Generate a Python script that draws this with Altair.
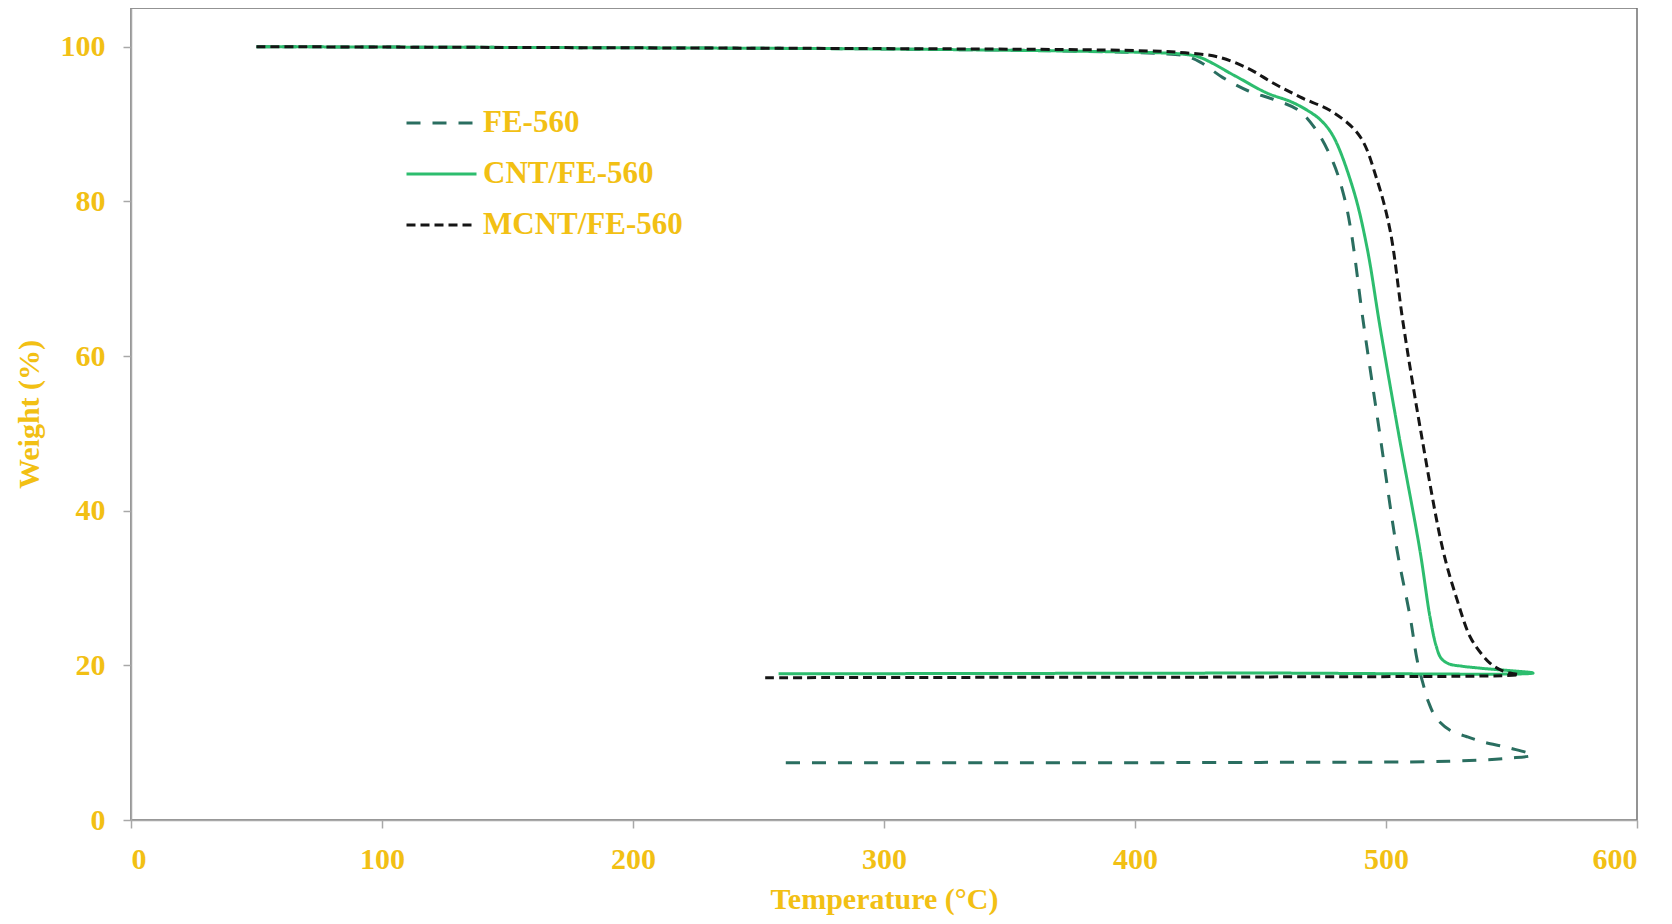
import altair as alt
import pandas as pd

series_names = ["FE-560", "CNT/FE-560", "MCNT/FE-560"]
series_colors = ["#2a6e60", "#2dbd6e", "#151515"]
series_dashes = [[14, 12], [1, 0], [9, 5]]

# FE-560: heating then cooling
fe_T = [50, 100, 200, 300, 380, 410, 420, 426, 435, 445, 455, 465, 472, 479, 483, 486, 491, 497.5, 504.4, 509.6, 512.4, 514.7, 517, 520, 525.5, 532, 538.6, 549.4, 558.2,
        549, 525, 450, 350, 257]
fe_W = [100, 99.95, 99.85, 99.7, 99.4, 99.1, 98.8, 98.0, 96.0, 94.3, 93.2, 91.8, 89.3, 85.0, 81.0, 76.3, 64.3, 50.0, 34.9, 26.3, 20.7, 17.7, 15.2, 13.2, 11.6, 10.8, 10.1, 9.3, 8.4,
        8.0, 7.6, 7.45, 7.4, 7.4]

# CNT/FE-560
cnt_T = [50, 100, 200, 300, 380, 410, 420, 426, 440, 452.6, 462, 468.5, 474, 479, 487, 492.4, 497.6, 505, 513.5, 517.5, 520, 522, 525, 530, 538.6, 558.6,
         450, 350, 258]
cnt_W = [100, 99.95, 99.85, 99.7, 99.4, 99.2, 99.0, 98.6, 96.2, 94.0, 92.9, 91.8, 90.5, 88.4, 81.5, 74.1, 63.8, 50.0, 34.9, 26.3, 22.5, 20.9, 20.2, 19.9, 19.6, 19.0,
         19.0, 18.95, 18.9]

# MCNT/FE-560
mcnt_T = [50, 100, 200, 300, 380, 410, 420, 432.7, 445, 455, 465.7, 479, 489.6, 496.4, 501.6, 506.8, 514, 522.7, 528.3, 533.5, 538, 541.4, 545, 549.4, 553,
          450, 350, 252]
mcnt_W = [100, 99.95, 99.85, 99.75, 99.6, 99.4, 99.2, 98.7, 97.2, 95.3, 93.5, 91.5, 88.4, 82.8, 76.3, 64.3, 50.0, 34.9, 28.5, 23.7, 21.5, 20.3, 19.5, 19.0, 18.8,
          18.5, 18.45, 18.4]

x_ticks = [0, 100, 200, 300, 400, 500, 600]
y_ticks = [0, 20, 40, 60, 80, 100]

rows = []
for name, T, W in zip(series_names, [fe_T, cnt_T, mcnt_T], [fe_W, cnt_W, mcnt_W]):
    for i, (t, w) in enumerate(zip(T, W)):
        rows.append({"series": name, "T": t, "W": w, "idx": i})
df = pd.DataFrame(rows)

GOLD = "#f2c014"
FONT = "Liberation Serif"

legend = alt.Legend(
    title=None, orient="none", legendX=274, legendY=100,
    symbolType="stroke", symbolSize=4900, symbolStrokeWidth=3, clipHeight=30,
    rowPadding=20, labelOffset=5, labelFont=FONT, labelFontSize=31,
    labelFontWeight="bold", labelColor=GOLD, labelLimit=400,
)

chart = alt.Chart(df).mark_line(strokeWidth=3, interpolate="catmull-rom").encode(
    x=alt.X("T:Q", scale=alt.Scale(domain=[0, 600], nice=False),
            axis=alt.Axis(values=x_ticks, title="Temperature (°C)", format="d")),
    y=alt.Y("W:Q", scale=alt.Scale(domain=[0, 105], nice=False),
            axis=alt.Axis(values=y_ticks, title="Weight (%)", format="d")),
    color=alt.Color("series:N", scale=alt.Scale(domain=series_names, range=series_colors), legend=legend),
    strokeDash=alt.StrokeDash("series:N", scale=alt.Scale(domain=series_names, range=series_dashes), legend=legend),
    detail="series:N",
    order="idx:Q",
).properties(
    width=1506, height=812,
    autosize=alt.AutoSizeParams(type="none"),
    padding={"left": 123, "top": 0, "right": 20, "bottom": 104},
).configure_view(
    stroke="#707070", strokeWidth=1.5,
).configure_axis(
    grid=False, domainColor="#a8a8a8", domainWidth=1.5, tickColor="#a8a8a8", tickWidth=1.5, tickSize=8,
    labelFont=FONT, labelFontSize=30, labelFontWeight="bold", labelColor=GOLD,
    titleFont=FONT, titleFontSize=30, titleFontWeight="bold", titleColor=GOLD,
).configure_axisX(
    labelPadding=16, titlePadding=10,
).configure_axisY(
    labelPadding=18, titlePadding=16,
)

chart.save("out.html", embed_options={"renderer": "svg", "actions": False})
